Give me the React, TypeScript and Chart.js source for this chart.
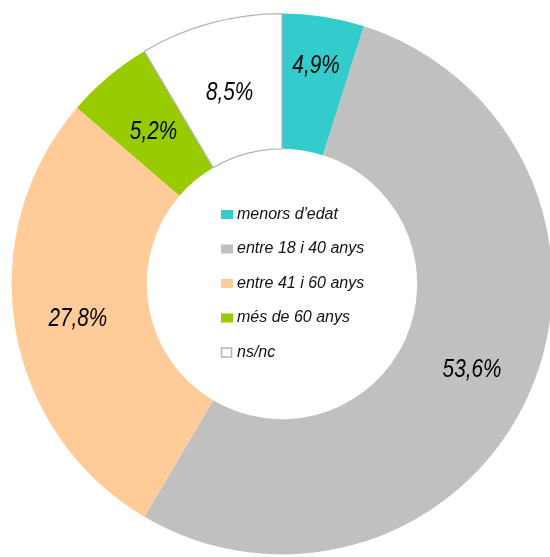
import React, { useEffect, useRef } from "react";
import { Chart, registerables } from "chart.js";

Chart.register(...registerables);

const categories = ["menors d'edat", "entre 18 i 40 anys", "entre 41 i 60 anys", "més de 60 anys", "ns/nc"];
const values = [4.9, 53.6, 27.8, 5.2, 8.5];
const valueLabels = ["4,9%", "53,6%", "27,8%", "5,2%", "8,5%"];
const colors = ["#33CCCC", "#C0C0C0", "#FFCC99", "#99CC00", "#FFFFFF"];
const borderColors = ["#33CCCC", "#C0C0C0", "#FFCC99", "#99CC00", "#B4B4B4"];
const borderWidths = [0, 0, 0, 0, 1.2];
const labelRadiusFrac = [0.64, 0.54, 0.53, 0.48, 0.47];

const FONT = '"Liberation Sans", Arial, Helvetica, sans-serif';

const sliceLabels = {
  id: "sliceLabels",
  afterDatasetsDraw(chart: any) {
    const ctx = chart.ctx;
    const meta = chart.getDatasetMeta(0);
    meta.data.forEach((arc: any, i: number) => {
      const p = arc.getProps(["x", "y", "startAngle", "endAngle", "innerRadius", "outerRadius"], true);
      const ang = (p.startAngle + p.endAngle) / 2;
      const r = p.innerRadius + (p.outerRadius - p.innerRadius) * labelRadiusFrac[i];
      const x = p.x + Math.cos(ang) * r;
      const y = p.y + Math.sin(ang) * r;
      ctx.save();
      ctx.translate(x, y + 1);
      ctx.scale(0.83, 1);
      ctx.font = `italic 25px ${FONT}`;
      ctx.fillStyle = "#000000";
      ctx.textAlign = "center";
      ctx.textBaseline = "middle";
      ctx.fillText(valueLabels[i], 0, 0);
      ctx.restore();
    });
  },
};

const centerLegend = {
  id: "centerLegend",
  afterDraw(chart: any) {
    const ctx = chart.ctx;
    const arc = chart.getDatasetMeta(0).data[0];
    const cx = arc.x;
    const cy = arc.y;
    const spacing = 34.5;
    const n = categories.length;
    ctx.save();
    ctx.font = `italic 16px ${FONT}`;
    ctx.textAlign = "left";
    ctx.textBaseline = "middle";
    categories.forEach((label, i) => {
      const y = cy - 0.5 + (i - (n - 1) / 2) * spacing;
      const bx = cx - 61;
      if (borderWidths[i] > 0) {
        ctx.fillStyle = colors[i];
        ctx.fillRect(bx + 0.5, y - 4.5, 10, 9);
        ctx.strokeStyle = borderColors[i];
        ctx.lineWidth = 1.5;
        ctx.strokeRect(bx + 0.5, y - 4.5, 10, 9);
      } else {
        ctx.fillStyle = colors[i];
        ctx.fillRect(bx, y - 4.5, 12, 9);
      }
      ctx.fillStyle = "#111111";
      ctx.fillText(label, cx - 45, y);
    });
    ctx.restore();
  },
};

export default function App() {
  const ref = useRef<HTMLCanvasElement | null>(null);
  useEffect(() => {
    if (!ref.current) return;
    const chart = new Chart(ref.current, {
      type: "doughnut",
      data: {
        labels: categories,
        datasets: [
          {
            data: values,
            backgroundColor: colors,
            borderColor: borderColors,
            borderWidth: borderWidths,
            hoverOffset: 0,
          },
        ],
      },
      options: {
        responsive: false,
        animation: false,
        cutout: "50%",
        layout: { padding: 0 },
        plugins: {
          legend: { display: false },
          tooltip: { enabled: false },
        },
      },
      plugins: [sliceLabels, centerLegend],
    });
    return () => chart.destroy();
  }, []);
  return (
    <div
      style={{
        position: "fixed",
        left: 0,
        top: 0,
        width: 550,
        height: 557,
        overflow: "hidden",
        background: "#FFFFFF",
      }}
    >
      <canvas
        ref={ref}
        width={542}
        height={542}
        style={{ position: "absolute", left: 11, top: 13, width: 542, height: 542 }}
      />
    </div>
  );
}
